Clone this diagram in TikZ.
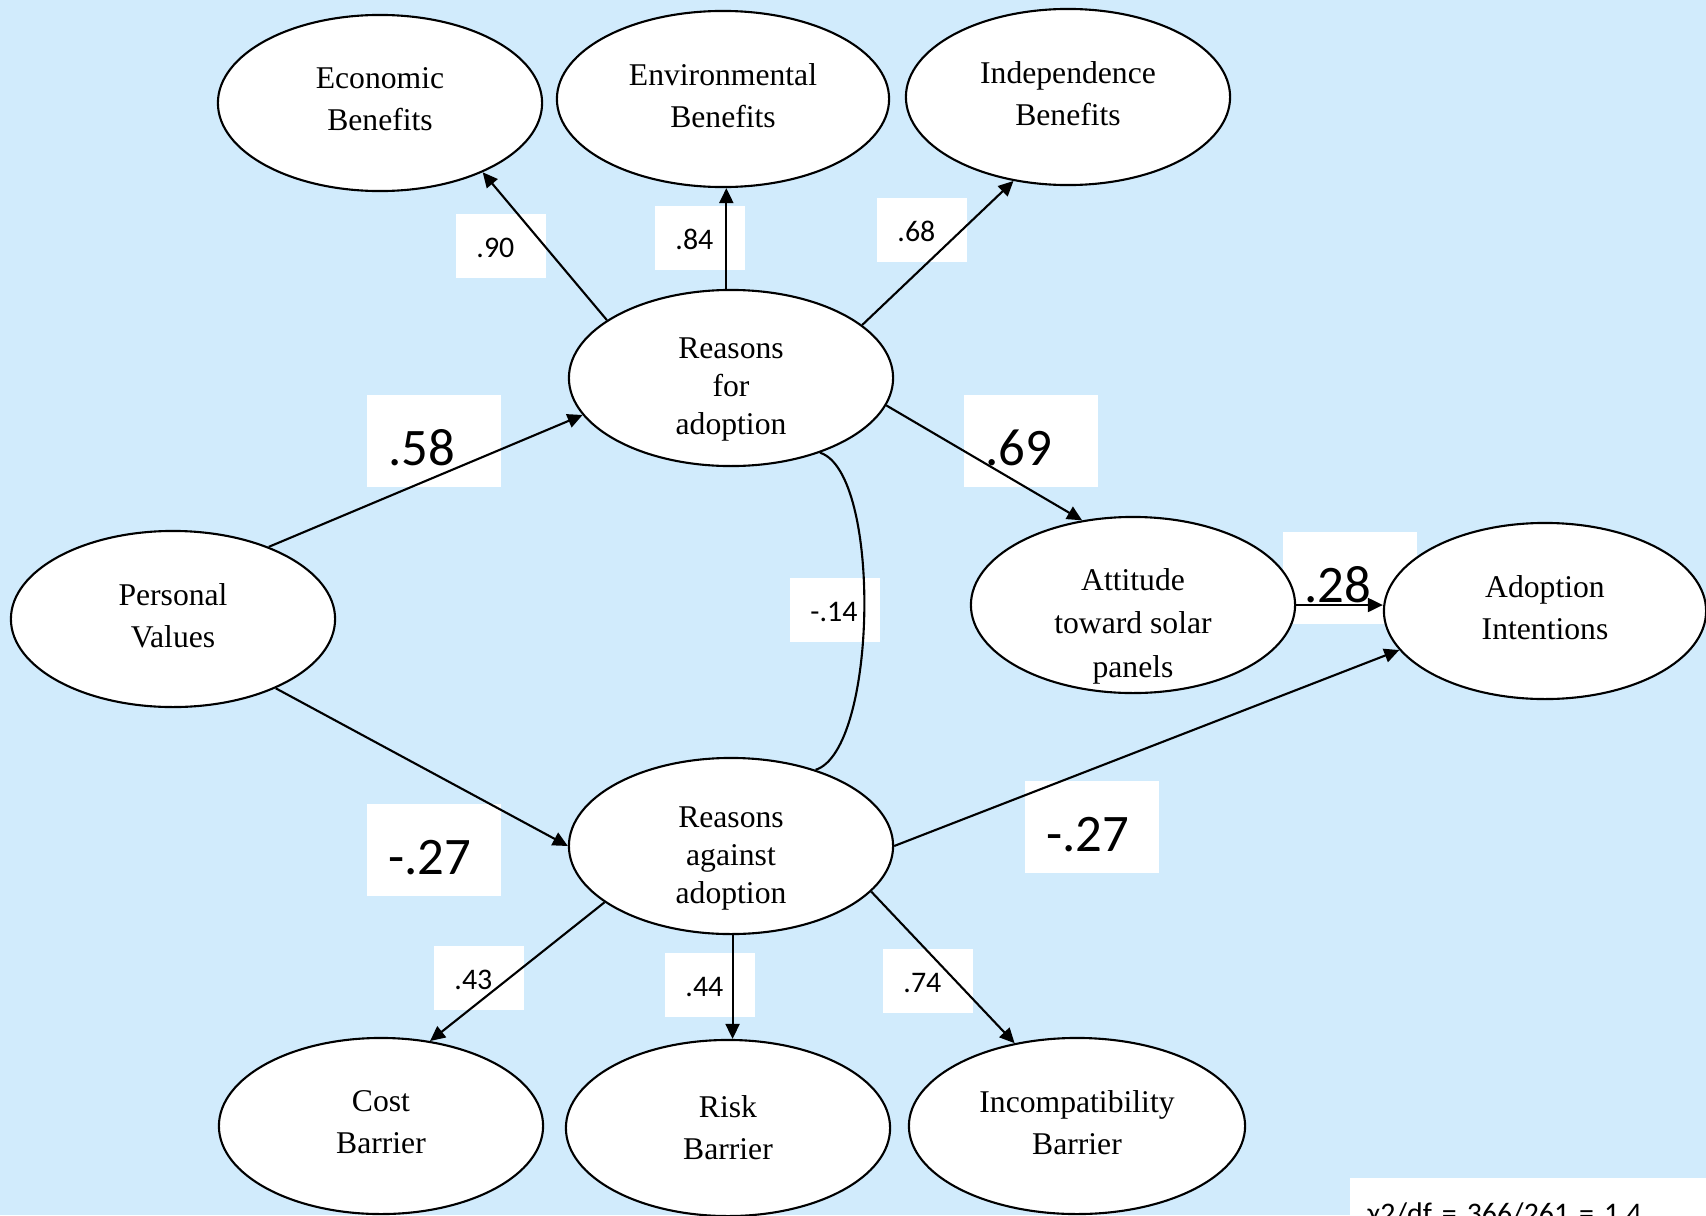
\documentclass[tikz,border=0pt]{standalone}
\usepackage{fontspec}
\setmainfont{Liberation Serif}
\newfontfamily\coefFont{Carlito}
\usetikzlibrary{arrows.meta,shapes.geometric}

% Struts to nudge ellipse texts
\newcommand{\topLift}[1]{\rule{0pt}{#1}}
\newcommand{\lowDrop}{\rule[-2.2pt]{0pt}{2.2pt}}

\begin{document}
\begin{tikzpicture}[x=0.01cm, y=-0.01cm,
    latent/.style={ellipse, draw=borderColour, fill=white, line width=0.6pt,
        minimum width=3.24cm, minimum height=1.76cm, inner xsep=0pt, inner ysep=-0.3cm,
        align=center, font=\fontsize{9}{12}\selectfont},
    coef/.style={fill=white, minimum width=0.89cm, minimum height=0.63cm,
        inner xsep=0.2cm, inner ysep=0pt, text width=0.49cm, align=left,
        text height=6.8pt, text depth=0pt, font=\coefFont\fontsize{8.5}{10}\selectfont},
    bigCoef/.style={fill=white, minimum width=1.33cm, minimum height=0.91cm,
        inner xsep=0.21cm, inner ysep=0pt, text width=0.91cm, align=left,
        text height=14pt, text depth=0pt, font=\coefFont\fontsize{15}{18}\selectfont},
    effect/.style={draw=borderColour, line width=0.6pt, -{Triangle[length=1.5mm,width=1.4mm]}}]
    \definecolor{borderColour}{HTML}{000000}
    \definecolor{backColour}{HTML}{D1EBFC}

    % Background and frame
    \useasboundingbox (0,0) rectangle (1706,1215);
    \clip (0,0) rectangle (1706,1215);
    \fill[backColour] (0,0) rectangle (1706,1215);

    % Coefficient boxes
    \node[coef] (cEcon) at (501,246) {.90};
    \node[coef] (cEnvir) at (700,238) {.84};
    \node[coef] (cIndep) at (922,230) {.68};
    \node[bigCoef] (cValFor) at (434,441) {.58};
    \node[bigCoef] (cForAtt) at (1031,441) {.69};
    \node[coef] (cCorr) at (835,610) {-.14};
    \node[bigCoef] (cAttInt) at (1350,578) {.28};
    \node[bigCoef] (cValAg) at (434,850) {-.27};
    \node[bigCoef] (cAgInt) at (1092,827) {-.27};
    \node[coef] (cCost) at (479,978) {.43};
    \node[coef] (cRisk) at (710,985) {.44};
    \node[coef] (cIncompat) at (928,981) {.74};

    % Goodness of fit
    \node[fill=white, anchor=north west, inner xsep=0.18cm, inner ysep=0.25cm,
        text width=3.3cm, align=left, font=\coefFont\fontsize{8.5}{10}\selectfont]
        (fit) at (1349,1177) {χ2/df = 366/261 = 1.4};

    % Latent variables
    \node[latent] (econ) at (380,103) {Economic\\Benefits\lowDrop};
    \node[latent, minimum width=3.32cm] (envir) at (723,99) {Environmental\\Benefits\lowDrop};
    \node[latent] (indep) at (1068,97) {Independence\\Benefits\lowDrop\lowDrop};
    \node[latent, font=\fontsize{9}{10.8}\selectfont] (forAdopt) at (731,378) {\topLift{12.3pt}Reasons\\for\\adoption};
    \node[latent] (values) at (173,619) {Personal\\Values\lowDrop};
    \node[latent, font=\fontsize{9}{12.4}\selectfont] (attitude) at (1133,605) {\topLift{18.2pt}Attitude\\toward solar\\panels};
    \node[latent, minimum width=3.22cm] (intent) at (1545,611) {Adoption\\Intentions\lowDrop};
    \node[latent, font=\fontsize{9}{10.8}\selectfont] (against) at (731,846) {\topLift{12.8pt}Reasons\\against\\adoption};
    \node[latent] (cost) at (381,1126) {Cost\\Barrier\lowDrop};
    \node[latent] (risk) at (728,1128) {Risk\\Barrier};
    \node[latent, minimum width=3.36cm] (incompat) at (1077,1126) {Incompatibility\\Barrier\lowDrop};

    % Paths
    \draw[effect] (forAdopt.155) -- (econ.-34);
    \draw[effect] (forAdopt.93) -- (forAdopt.93 |- envir.south);
    \draw[effect] (forAdopt.22) -- (indep.-123);
    \draw[effect] (values.37) -- (forAdopt.-166);
    \draw[effect] (forAdopt.-10) -- (attitude.121);
    \draw[effect] (attitude.east) -- (attitude.east -| intent.west);
    \draw[effect] (values.-34) -- (against.west);
    \draw[effect] (against.east) -- (intent.-165);
    \draw[effect] (against.-156) -- (cost.60);
    \draw[effect] (against.-89) -- (against.-89 |- risk.north);
    \draw[effect] (against.-18) -- (incompat.127);

    % Correlation between reasons
    \draw[borderColour, line width=0.6pt] (forAdopt.-40) .. controls +(62,20) and +(62,-20) .. (against.42);

\end{tikzpicture}
\end{document}
